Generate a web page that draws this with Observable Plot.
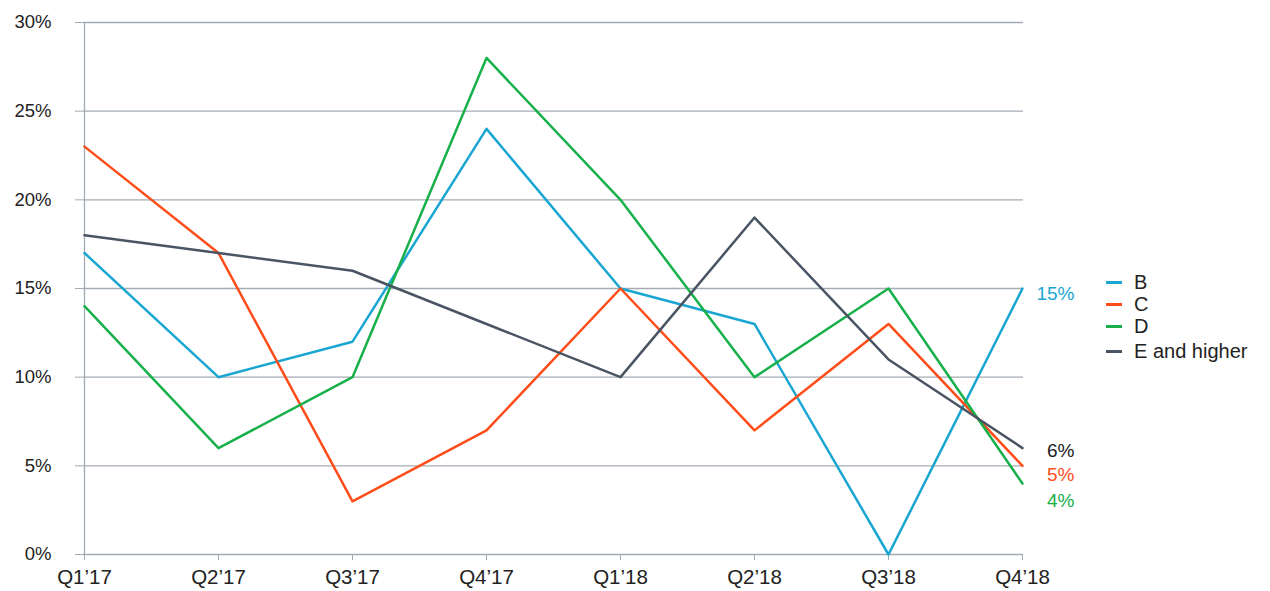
<!DOCTYPE html>
<html>
<head>
<meta charset="utf-8">
<script src="https://cdn.jsdelivr.net/npm/d3@7"></script>
<script src="https://cdn.jsdelivr.net/npm/@observablehq/plot@0.6"></script>
<style>
  body { margin: 0; background: #fff; font-family: "Liberation Sans", Arial, sans-serif; }
  #wrap { position: relative; width: 1270px; height: 591px; }
  #legend { position: absolute; left: 1106px; top: 271px; font-size: 20px; color: #222; }
  #legend .row { display: flex; align-items: center; height: 22px; }
  #legend .row:last-child { margin-top: 3px; }
  #legend .sw { width: 16px; height: 3px; margin-right: 12px; }
</style>
</head>
<body>
<div id="wrap"><div id="legend"></div></div>
<script>
const quarters = ["Q1’17", "Q2’17", "Q3’17", "Q4’17", "Q1’18", "Q2’18", "Q3’18", "Q4’18"];
const seriesNames = ["B", "C", "D", "E and higher"];
const seriesColors = ["#19a6d2", "#ff4d1a", "#17b04b", "#4a5563"];
const valuesB = [17, 10, 12, 24, 15, 13, 0, 15];
const valuesC = [23, 17, 3, 7, 15, 7, 13, 5];
const valuesD = [14, 6, 10, 28, 20, 10, 15, 4];
const valuesE = [18, 17, 16, 13, 10, 19, 11, 6];
const yTicks = [0, 5, 10, 15, 20, 25, 30];
const endLabelColors = ["#19a6d2", "#ff4d1a", "#17b04b", "#222222"];

const allValues = [valuesB, valuesC, valuesD, valuesE];
const data = [];
seriesNames.forEach((s, i) => {
  quarters.forEach((q, j) => data.push({series: s, quarter: q, value: allValues[i][j]}));
});
const last = quarters.length - 1;
const endData = seriesNames.map((s, i) => ({series: s, quarter: quarters[last], value: allValues[i][last], color: endLabelColors[i]}));
const labelDy = {"B": 5, "C": 9, "D": 17, "E and higher": 2.5};

const chart = Plot.plot({
  width: 1270,
  height: 591,
  marginLeft: 83,
  marginRight: 247,
  marginTop: 22,
  marginBottom: 37,
  style: {fontFamily: "Liberation Sans, Arial, sans-serif", fontSize: "18px", color: "#222", background: "transparent"},
  x: {type: "point", domain: quarters, padding: 0},
  y: {domain: [0, 30]},
  color: {domain: seriesNames, range: seriesColors},
  marks: [
    Plot.ruleY(yTicks, {stroke: "#a3acb5", strokeWidth: 1.3}),
    Plot.axisY({ticks: yTicks, tickFormat: d => d + "%", tickSize: 8, tickPadding: 24, stroke: "#a3acb5", strokeOpacity: 1, fill: "#222", fontSize: 18.5, label: null}),
    Plot.axisX({tickSize: 6, tickPadding: 9, stroke: "#a3acb5", strokeOpacity: 1, fill: "#222", fontSize: 20.5, label: null}),
    Plot.ruleX([quarters[0]], {y1: 0, y2: 30, stroke: "#a3acb5", strokeWidth: 1.3}),
    Plot.line(data, {x: "quarter", y: "value", z: "series", stroke: "series", strokeWidth: 2.5}),
    ...endData.map(d => Plot.text([d], {x: "quarter", y: "value", text: e => e.value + "%", fill: d.color, textAnchor: "end", dx: 52, dy: labelDy[d.series], fontSize: 19}))
  ]
});
document.getElementById("wrap").prepend(chart);

const legend = document.getElementById("legend");
seriesNames.forEach((s, i) => {
  const row = document.createElement("div");
  row.className = "row";
  const sw = document.createElement("span");
  sw.className = "sw";
  sw.style.background = seriesColors[i];
  const tx = document.createElement("span");
  tx.textContent = s;
  row.append(sw, tx);
  legend.append(row);
});
</script>
</body>
</html>
